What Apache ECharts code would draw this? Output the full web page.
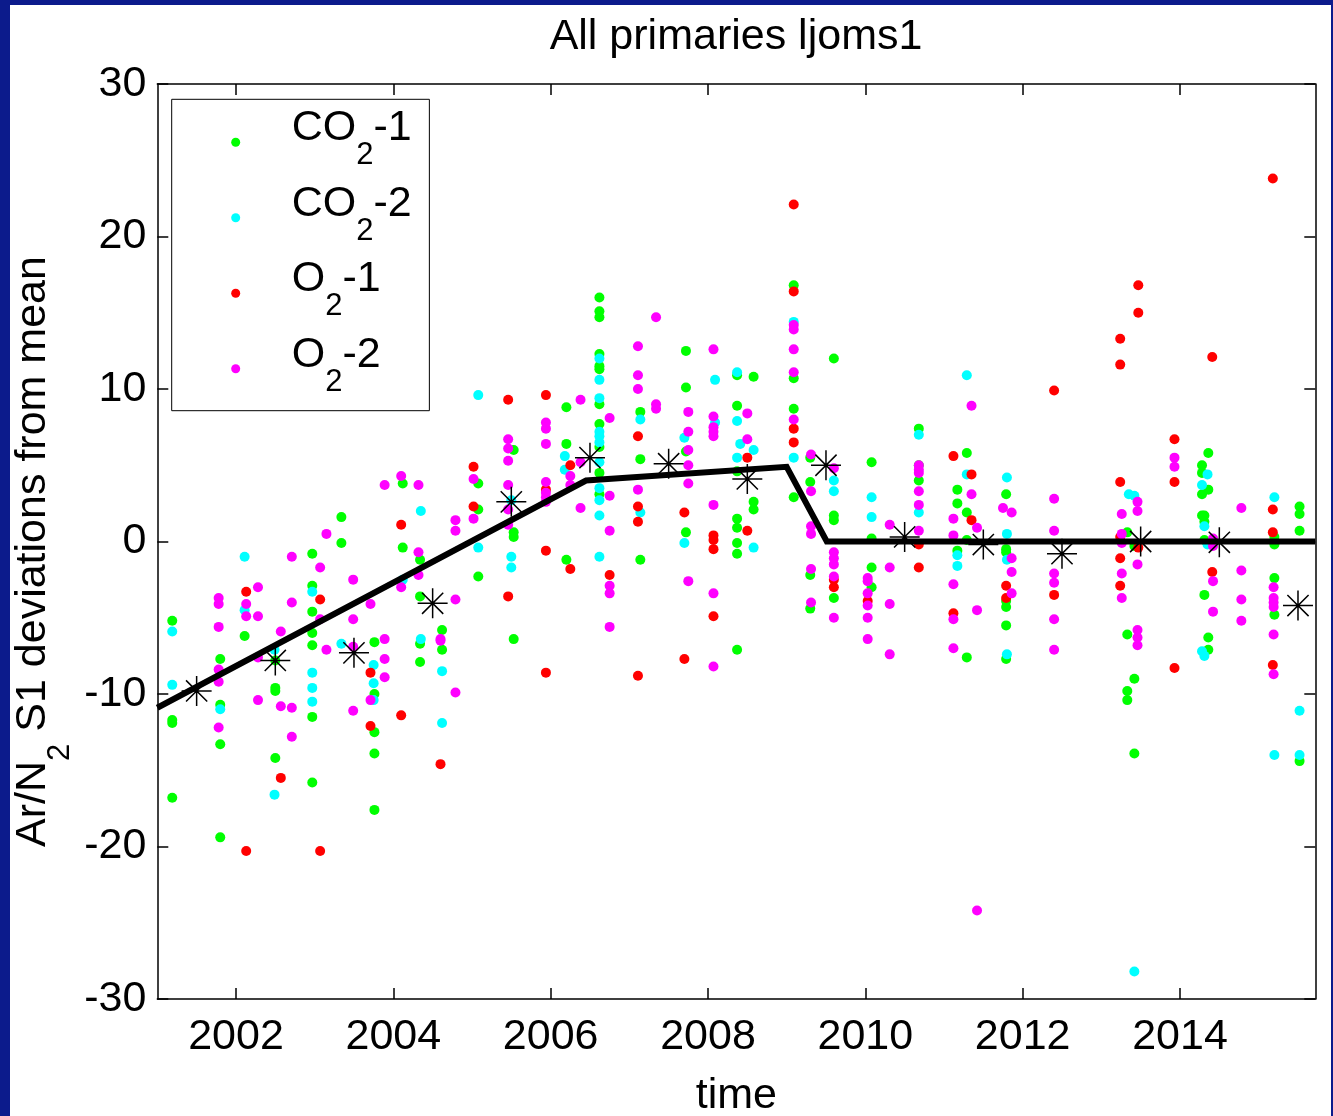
<!DOCTYPE html>
<html>
<head>
<meta charset="utf-8">
<script src="https://cdn.jsdelivr.net/npm/echarts@6/dist/echarts.min.js"></script>
<style>
  html, body { margin: 0; padding: 0; background: #0c1b8c; overflow: hidden; }
  #frame { position: absolute; left: 10px; top: 5px; width: 1321px; height: 1111px; background: #fff; }
  #chart { position: absolute; left: 0; top: 0; width: 1333px; height: 1116px; }
</style>
</head>
<body>
<div id="frame"></div>
<div id="chart"></div>
<script>
// Ar/N2 S1 deviations from the mean, grouped by sampling time: [time, [values...]]
const co2_1 = [
  [2001.19, [-5.2, -11.7, -11.9, -16.8]],
  [2001.80, [-7.7, -10.7, -13.3, -19.4]],
  [2002.11, [-6.2]],
  [2002.50, [-7.8, -9.6, -9.8, -14.2]],
  [2002.97, [-0.8, -2.9, -4.6, -6.0, -6.8, -11.5, -15.8]],
  [2003.34, [1.6, -0.1]],
  [2003.76, [-6.6, -10.0, -12.5, -13.9, -17.6]],
  [2004.12, [3.8, -0.4]],
  [2004.34, [-1.2, -3.6, -6.7, -7.9]],
  [2004.62, [-5.8, -7.1]],
  [2005.08, [3.8, 2.1, -2.3]],
  [2005.53, [6.0, 0.6, 0.3, -6.4]],
  [2006.20, [6.4, 8.8, -1.2]],
  [2006.62, [16.0, 15.1, 14.7, 12.3, 11.5, 11.3, 9.0, 7.7, 6.2, 4.5, 3.1]],
  [2007.14, [8.5, 5.4, -1.2]],
  [2007.72, [12.5, 10.1, 5.9, 0.6]],
  [2008.37, [10.9, 8.9, 4.6, 1.5, 0.9, -0.1, -0.8, -7.1]],
  [2008.58, [10.8, 2.6, 2.1]],
  [2009.09, [16.8, 10.7, 8.7, 2.9]],
  [2009.30, [5.5, 3.9, -2.2, -4.4]],
  [2009.60, [12.0, 1.7, 1.4, -3.7]],
  [2010.08, [5.2, 0.2, -1.7, -3.0]],
  [2010.68, [7.4, 5.0, 4.0]],
  [2011.17, [3.4, 2.5, -0.6]],
  [2011.29, [5.8, 1.9, 0.1, -7.6]],
  [2011.79, [3.1, -0.5, -0.7, -3.9, -4.3, -5.5, -7.7]],
  [2013.33, [0.6, -6.1, -9.8, -10.4]],
  [2013.42, [-0.3, -9.0, -13.9]],
  [2014.28, [5.0, 4.5, 3.1, 1.7]],
  [2014.31, [1.7, 1.3, 0.1, -3.5]],
  [2014.36, [5.8, 3.4, -6.3, -7.1]],
  [2015.20, [0.3, -0.2, -2.4, -4.8]],
  [2015.52, [2.3, 1.8, 0.7, -14.4]]
];

const co2_2 = [
  [2001.19, [-5.9, -9.4]],
  [2001.80, [-11.0]],
  [2002.11, [-1.0, -4.5]],
  [2002.49, [-7.1, -16.6]],
  [2002.97, [-3.3, -8.6, -9.6, -10.5]],
  [2003.34, [-6.7]],
  [2003.75, [-8.1, -9.3, -10.4]],
  [2004.12, [-2.5]],
  [2004.35, [2.0, -6.4]],
  [2004.62, [-8.5, -11.9]],
  [2005.08, [9.6, -0.4]],
  [2005.50, [2.7, -1.0, -1.7]],
  [2006.18, [5.6, 4.7]],
  [2006.62, [12.0, 10.6, 9.4, 7.2, 6.9, 6.5, 5.2, 3.5, 2.7, 1.7, -1.0]],
  [2007.14, [8.0, 1.9]],
  [2007.70, [6.8, -0.1]],
  [2008.09, [10.6, 7.8]],
  [2008.37, [11.1, 7.9, 5.5]],
  [2008.41, [6.4]],
  [2008.58, [6.0, -0.4]],
  [2009.09, [14.4, 5.5]],
  [2009.60, [4.0, 3.3]],
  [2010.08, [2.9, 1.6]],
  [2010.68, [7.0, 1.9]],
  [2011.17, [-0.9, -1.6]],
  [2011.29, [10.9, 4.4]],
  [2011.80, [4.2, 0.5, -1.2, -7.4]],
  [2013.35, [3.1]],
  [2013.42, [3.0, -28.2]],
  [2014.28, [3.7, -7.2]],
  [2014.31, [1.0, -7.5]],
  [2014.35, [4.4, -0.2]],
  [2015.20, [2.9, -14.0]],
  [2015.52, [-11.1, -14.0]]
];

const o2_1 = [
  [2002.13, [-3.3, -20.3]],
  [2002.57, [-15.5]],
  [2003.07, [-3.8, -20.3]],
  [2003.71, [-8.6, -12.1]],
  [2004.10, [1.1, -11.4]],
  [2004.60, [-14.6]],
  [2005.02, [4.9, 2.3]],
  [2005.46, [9.3, -3.6]],
  [2005.94, [9.6, 3.4, -0.6, -8.6]],
  [2006.25, [5.0, -1.8]],
  [2006.75, [-2.2]],
  [2007.11, [6.9, 2.3, 1.3, -8.8]],
  [2007.70, [1.9, -7.7]],
  [2008.07, [0.4, 0.1, -0.5, -4.9]],
  [2008.50, [5.5, 0.7]],
  [2009.09, [22.1, 16.4, 7.4, 6.5]],
  [2009.60, [-2.5, -3.0]],
  [2010.03, [-3.9]],
  [2010.68, [-0.2, -1.7]],
  [2011.12, [5.6, -4.7]],
  [2011.35, [4.4, 1.4]],
  [2011.79, [-2.9, -3.7]],
  [2012.40, [9.9, -3.5]],
  [2013.24, [13.3, 11.6, 3.9, 0.3, -1.1, -2.9]],
  [2013.47, [16.8, 15.0, -0.4]],
  [2013.93, [6.7, 3.9, -8.3]],
  [2014.41, [12.1, -2.0]],
  [2015.18, [23.8, 2.1, 0.6, -8.1]]
];

const o2_2 = [
  [2001.78, [-3.7, -4.1, -5.6, -8.4, -9.2, -12.2]],
  [2002.13, [-4.1, -4.9]],
  [2002.28, [-3.0, -4.9, -7.6, -10.4]],
  [2002.57, [-5.9, -10.8]],
  [2002.71, [-1.0, -4.0, -10.9, -12.8]],
  [2003.07, [-1.7, -5.1]],
  [2003.15, [0.5, -7.1]],
  [2003.49, [-2.5, -5.1, -6.9, -11.1]],
  [2003.71, [-4.1, -10.4]],
  [2003.89, [3.7, -6.4, -7.7, -8.9]],
  [2004.10, [4.3, -3.0]],
  [2004.32, [3.7, -0.7, -2.2]],
  [2004.60, [-6.4, -6.5]],
  [2004.79, [1.4, 0.7, -3.8, -9.9]],
  [2005.02, [4.1, 1.5]],
  [2005.46, [6.7, 6.1, 5.3, 3.7, 2.1, 1.1]],
  [2005.94, [7.8, 7.4, 6.4, 3.9, 3.2, 2.9, 2.6]],
  [2006.25, [4.3, 3.7]],
  [2006.38, [9.3, 5.2, 2.2]],
  [2006.75, [8.1, 3.0, 0.7, -2.9, -3.4, -5.6]],
  [2007.11, [12.8, 10.9, 10.0, 3.4]],
  [2007.34, [14.7, 9.0, 8.7]],
  [2007.75, [8.5, 7.2, 6.0, 5.0, 3.8, -2.6]],
  [2008.07, [12.6, 8.2, 7.5, 7.2, 6.9, 2.4, -3.4, -8.2]],
  [2008.50, [8.4, 6.7]],
  [2009.09, [14.2, 13.9, 12.6, 11.1, 8.0]],
  [2009.31, [5.7, 3.3, 1.0, 0.5, -1.8, -4.0]],
  [2009.60, [4.8, -0.7, -1.1, -1.5, -2.3, -5.0]],
  [2010.03, [-2.4, -2.6, -3.4, -4.2, -5.0, -6.4]],
  [2010.31, [1.1, -1.7, -4.1, -7.4]],
  [2010.68, [5.0, 4.7, 4.5, 3.3, 2.4, 0.7]],
  [2011.12, [1.5, 0.4, -2.8, -5.1, -7.0]],
  [2011.35, [8.9, 3.1]],
  [2011.42, [0.9, -4.5, -24.2]],
  [2011.75, [2.2]],
  [2011.86, [1.9, -1.1, -2.0, -3.4]],
  [2012.40, [2.8, 0.7, -2.1, -2.7, -5.1, -7.1]],
  [2013.26, [1.8, 0.5, -0.1, -2.1, -3.7]],
  [2013.46, [2.6, 2.0, -1.5, -5.8, -6.3, -6.8]],
  [2013.93, [5.5, 4.9]],
  [2014.42, [0.2, -0.3, -2.6, -4.6]],
  [2014.78, [2.2, -1.9, -3.8, -5.2]],
  [2015.19, [-3.0, -3.7, -4.0, -4.3, -6.1, -8.7]]
];

// Yearly means (asterisks) and the piecewise-linear trend
const yearMeans = [
  [2001.5, -9.8], [2002.5, -7.8], [2003.5, -7.3], [2004.5, -4.05], [2005.5, 2.6],
  [2006.5, 5.5], [2007.5, 5.1], [2008.5, 4.1], [2009.5, 5.0], [2010.5, 0.3],
  [2011.5, -0.2], [2012.5, -0.8], [2013.5, 0.0], [2014.5, -0.05], [2015.5, -4.2]
];
const trend = [[2001.0, -10.9], [2006.45, 4.0], [2009.0, 4.9], [2009.51, 0.0], [2015.72, 0.0]];

const seriesNames = ['CO2-1', 'CO2-2', 'O2-1', 'O2-2'];
const seriesColors = ['#00ff00', '#00ffff', '#ff0000', '#ff00ff'];
const xTicks = [2002, 2004, 2006, 2008, 2010, 2012, 2014];
const X_MIN = 2001, X_MAX = 2015.72;
const Y_MIN = -30, Y_MAX = 30, Y_STEP = 10;

const FONT = '"Liberation Sans", Arial, Helvetica, sans-serif';
const FS = 43;

function flatten(cols) {
  const out = [];
  cols.forEach(([t, vs]) => vs.forEach(v => out.push([t, v])));
  return out;
}

// rich text with a subscript "2"
const subRich = {
  m: { fontSize: FS, lineHeight: 44, verticalAlign: 'top', padding: [2, 0, 0, 0], fontFamily: FONT, color: '#000' },
  s: { fontSize: 31, lineHeight: 75, verticalAlign: 'top', padding: [35.5, 0, 8.5, 0], fontFamily: FONT, color: '#000' }
};
function withSub(name) {
  const parts = name.split('-');
  return '{m|' + parts[0].slice(0, -1) + '}{s|2}{m|-' + parts[1] + '}';
}

const axisLineStyle = { color: '#000', width: 1.5 };
const labelStyle = { fontSize: FS, fontFamily: FONT, color: '#000' };

const chart = echarts.init(document.getElementById('chart'), null, { renderer: 'canvas' });

const scatterData = [co2_1, co2_2, o2_1, o2_2];

const option = {
  animation: false,
  backgroundColor: 'transparent',
  title: {
    text: 'All primaries ljoms1',
    left: 736, top: 16, textAlign: 'center', padding: 0,
    textStyle: { fontSize: FS, fontWeight: 'normal', fontFamily: FONT, color: '#000' }
  },
  grid: { left: 157.3, right: 17.7, top: 84, bottom: 117, containLabel: false, outerBoundsMode: 'none' },
  legend: {
    orient: 'vertical',
    left: 171.7, top: 99.3,
    padding: [5.5, 17.7, 4.4, 59.5],
    itemWidth: 102, itemHeight: 9, itemGap: 0.5,
    icon: 'circle',
    selectedMode: false,
    borderColor: '#000', borderWidth: 1, backgroundColor: '#fff',
    data: seriesNames,
    formatter: withSub,
    textStyle: { rich: subRich, fontFamily: FONT, color: '#000' }
  },
  xAxis: [
    {
      type: 'value', position: 'bottom', min: X_MIN, max: X_MAX,
      name: 'time', nameLocation: 'middle', nameGap: 76, nameMoveOverlap: false,
      nameTextStyle: labelStyle,
      axisLine: { onZero: false, lineStyle: axisLineStyle },
      axisTick: { inside: true, length: 11, customValues: xTicks, lineStyle: axisLineStyle },
      axisLabel: { customValues: xTicks, margin: 17, formatter: v => String(v), ...labelStyle },
      splitLine: { show: false }
    },
    {
      type: 'value', position: 'top', min: X_MIN, max: X_MAX,
      axisLine: { onZero: false, lineStyle: axisLineStyle },
      axisTick: { inside: true, length: 11, customValues: xTicks, lineStyle: axisLineStyle },
      axisLabel: { show: false },
      splitLine: { show: false }
    }
  ],
  yAxis: [
    {
      type: 'value', position: 'left', min: Y_MIN, max: Y_MAX, interval: Y_STEP,
      name: '{m|Ar/N}{s|2}{m| S1 deviations from mean}',
      nameLocation: 'middle', nameRotate: 90, nameGap: 73, nameMoveOverlap: false,
      nameTextStyle: { rich: subRich, padding: [0, 20, 0, 0] },
      axisLine: { onZero: false, lineStyle: axisLineStyle },
      axisTick: { inside: true, length: 11, lineStyle: axisLineStyle },
      axisLabel: { margin: 11, formatter: v => String(v), ...labelStyle },
      splitLine: { show: false }
    },
    {
      type: 'value', position: 'right', min: Y_MIN, max: Y_MAX, interval: Y_STEP,
      axisLine: { onZero: false, lineStyle: axisLineStyle },
      axisTick: { inside: true, length: 11, lineStyle: axisLineStyle },
      axisLabel: { show: false },
      splitLine: { show: false }
    }
  ],
  series: [
    ...scatterData.map((cols, i) => ({
      name: seriesNames[i],
      type: 'scatter',
      xAxisIndex: 0, yAxisIndex: 0,
      symbol: 'circle', symbolSize: 10,
      itemStyle: { color: seriesColors[i], opacity: 1 },
      emphasis: { disabled: true },
      silent: true,
      data: flatten(cols)
    })),
    {
      name: 'trend',
      type: 'line',
      xAxisIndex: 0, yAxisIndex: 0,
      showSymbol: false, symbol: 'none',
      lineStyle: { color: '#000', width: 6, join: 'miter' },
      emphasis: { disabled: true },
      silent: true,
      data: trend
    },
    {
      name: 'annual mean',
      type: 'scatter',
      xAxisIndex: 0, yAxisIndex: 0,
      symbol: 'path://M15,0L15,30M0,15L30,15M4.4,4.4L25.6,25.6M4.4,25.6L25.6,4.4',
      symbolSize: 30,
      itemStyle: { color: 'rgba(0,0,0,0)', borderColor: '#000', borderWidth: 1.5, opacity: 1 },
      emphasis: { disabled: true },
      silent: true,
      data: yearMeans
    }
  ]
};

chart.setOption(option);
</script>
</body>
</html>
